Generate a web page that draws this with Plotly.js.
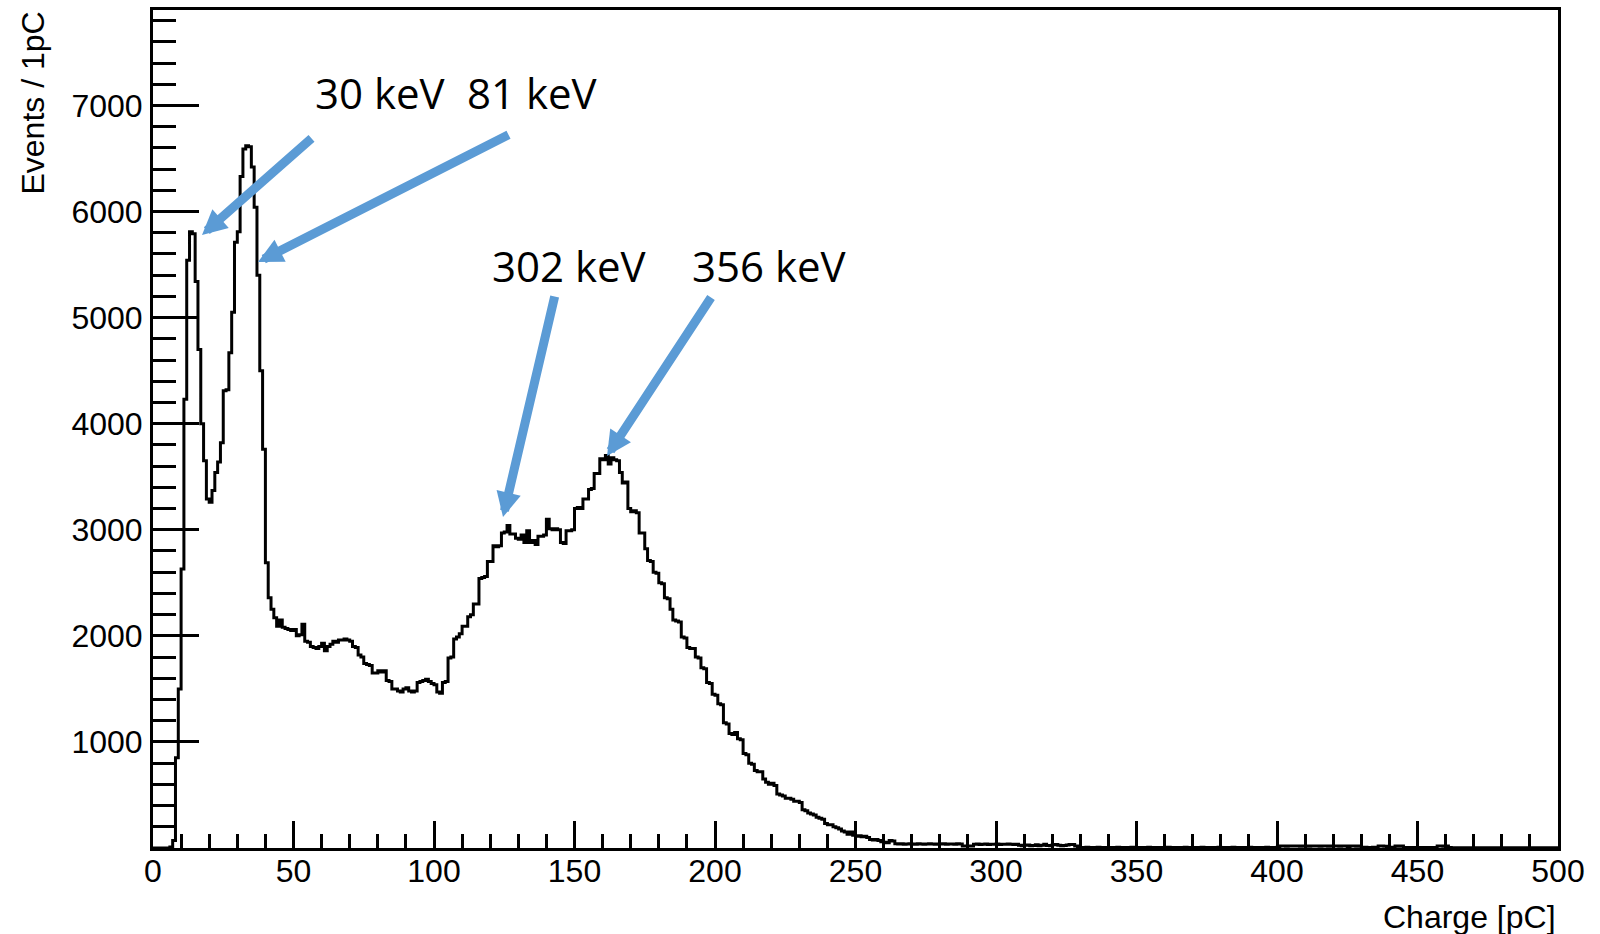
<!DOCTYPE html>
<html><head><meta charset="utf-8">
<script src="https://cdn.plot.ly/plotly-3.0.1.min.js"></script>
<style>html,body{margin:0;padding:0;background:#fff}#chart{width:1600px;height:934px}</style>
</head><body><div id="chart"></div>
<script>
// Events per 1 pC bin, bins 0..499
const counts = [
0,0,0,0,0,0,10,70,850,1500,
2630,4230,5540,5810,5790,5340,4700,4000,3650,3290,
3260,3370,3540,3640,3820,4310,4320,4670,5050,5710,
5810,6330,6590,6620,6610,6420,6040,5400,4500,3760,
2690,2360,2250,2170,2090,2150,2080,2070,2060,2050,
2060,2000,2010,2110,1950,1940,1900,1890,1880,1900,
1930,1860,1900,1920,1950,1940,1960,1960,1970,1960,
1950,1900,1890,1820,1800,1740,1730,1720,1650,1650,
1670,1660,1670,1580,1570,1500,1500,1480,1470,1500,
1510,1480,1470,1480,1560,1570,1580,1590,1570,1550,
1540,1470,1460,1560,1570,1790,1800,1970,1990,2020,
2090,2090,2180,2200,2300,2300,2540,2550,2560,2700,
2700,2850,2840,2850,2970,2980,3040,2960,2960,2920,
2910,2950,2880,2990,2880,2900,2860,2940,2940,2950,
3100,3010,3000,3010,3000,2880,2870,2990,2990,3000,
3200,3210,3200,3290,3290,3380,3390,3530,3530,3670,
3660,3700,3620,3680,3660,3650,3540,3440,3450,3200,
3170,3180,3160,2970,2970,2820,2710,2700,2600,2590,
2500,2490,2360,2350,2250,2150,2140,2130,1990,1980,
1890,1880,1880,1800,1790,1700,1690,1560,1550,1450,
1440,1360,1350,1180,1170,1080,1070,1090,1030,1020,
890,880,800,790,730,720,720,650,620,600,
610,590,510,500,490,470,470,460,440,440,
430,360,350,330,320,310,290,280,270,230,
220,220,200,190,180,160,150,130,150,120,
110,115,105,110,100,80,75,80,70,60,
55,50,70,65,40,38,40,36,38,40,
38,36,40,38,36,38,40,38,36,38,
38,40,36,38,38,36,40,38,20,20,
20,20,35,38,32,36,38,34,36,35,
38,34,36,35,38,36,33,36,25,22,
25,28,22,24,30,22,25,35,24,22,
30,34,26,22,24,28,34,33,20,8,
5,4,6,5,4,5,6,4,5,5,
4,5,5,6,4,5,4,5,6,5,
5,4,5,5,6,4,5,5,4,5,
5,6,4,5,5,4,5,6,5,4,
5,5,4,6,5,5,4,5,5,6,
4,5,5,4,6,5,5,4,5,5,
6,4,5,5,4,5,6,5,4,5,
6,18,20,17,19,18,20,18,17,19,
18,16,19,18,20,17,18,19,17,20,
18,19,17,20,18,6,18,19,17,18,
5,6,4,5,6,5,18,19,17,5,
6,5,18,17,19,4,5,4,3,5,
4,3,4,5,3,4,4,18,19,17,
18,4,3,2,3,2,3,2,3,2,
2,3,2,2,3,2,3,2,2,3,
2,2,3,2,2,3,2,2,3,2,
2,3,2,2,3,2,2,3,2,2
];
const binWidth = 1; // pC
const xTickVals = [0,50,100,150,200,250,300,350,400,450,500];
const yTickVals = [1000,2000,3000,4000,5000,6000,7000];
const peakLabels = ['30 keV','81 keV','302 keV','356 keV'];
const xTitle = 'Charge [pC]';
const yTitle = 'Events / 1pC';

// histogram drawn as a step outline over bin edges
const edges = counts.map((c, i) => i * binWidth);
edges.push(counts.length * binWidth);
const stepY = counts.slice();
stepY.push(counts[counts.length - 1]);

const tickFont = {family: 'Liberation Sans, Arial, sans-serif', size: 32, color: '#000'};
const labelFont = {family: 'Open Sans, sans-serif', size: 42, color: '#000'};
const arrowColor = '#5B9BD5';

function arrow(x, y, ax, ay) {
  return {x: x, y: y, xref: 'x', yref: 'y', text: '', showarrow: true,
    arrowhead: 2, arrowsize: 0.55, arrowwidth: 9, arrowcolor: arrowColor,
    ax: ax, ay: ay, standoff: 0};
}
function label(text, x, y) {
  return {x: x, y: y, xref: 'x', yref: 'y', text: text, showarrow: false,
    xanchor: 'left', yanchor: 'middle', font: labelFont};
}

const layout = {
  width: 1600, height: 934,
  margin: {l: 153, r: 42, t: 10, b: 86, pad: 0},
  paper_bgcolor: '#fff', plot_bgcolor: '#fff',
  showlegend: false,
  xaxis: {
    range: [0, 500], showline: true, linewidth: 3, linecolor: '#000', mirror: true,
    ticks: 'inside', ticklen: 27, tickwidth: 3, tickcolor: '#000',
    tickmode: 'array', tickvals: xTickVals, ticktext: xTickVals.map(String),
    tickfont: tickFont, showgrid: false, zeroline: false, ticklabelstandoff: -7,
    minor: {ticks: 'inside', ticklen: 14, tickwidth: 3, tickcolor: '#000',
      tickmode: 'linear', tick0: 0, dtick: 10, showgrid: false}
  },
  yaxis: {
    range: [0, 7900], showline: true, linewidth: 3, linecolor: '#000', mirror: true,
    ticks: 'inside', ticklen: 46, tickwidth: 3, tickcolor: '#000',
    tickmode: 'array', tickvals: yTickVals, ticktext: yTickVals.map(String),
    tickfont: tickFont, showgrid: false, zeroline: false, ticklabelstandoff: 1,
    minor: {ticks: 'inside', ticklen: 23, tickwidth: 3, tickcolor: '#000',
      tickmode: 'linear', tick0: 0, dtick: 200, showgrid: false}
  },
  annotations: [
    label(peakLabels[0], 57, 7127),
    label(peakLabels[1], 111, 7127),
    label(peakLabels[2], 119.8, 5496),
    label(peakLabels[3], 191, 5496),
    arrow(17.44, 5779, 111, -98),
    arrow(37.37, 5524, 252, -128),
    arrow(124.56, 3120, 52, -222),
    arrow(161.57, 3695, 105, -160),
    {text: yTitle, xref: 'paper', yref: 'paper', x: -0.0861, y: 1,
      xanchor: 'center', yanchor: 'top', textangle: -90, showarrow: false,
      font: {family: 'Liberation Sans, Arial, sans-serif', size: 32, color: '#000'}},
    {text: xTitle, xref: 'paper', yref: 'paper', x: 1.0, y: -0.0823,
      xanchor: 'right', yanchor: 'middle', showarrow: false,
      font: {family: 'Liberation Sans, Arial, sans-serif', size: 32, color: '#000'}}
  ]
};

Plotly.newPlot('chart', [{
  type: 'scatter', mode: 'lines', x: edges, y: stepY,
  line: {shape: 'hv', color: '#000', width: 3}, hoverinfo: 'skip'
}], layout, {staticPlot: true, displayModeBar: false});
</script>
</body></html>
